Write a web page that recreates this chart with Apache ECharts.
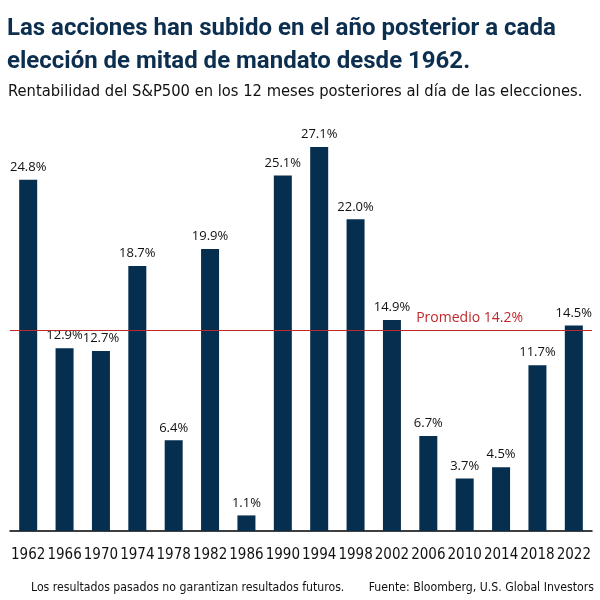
<!DOCTYPE html>
<html style="height: 100%">
<head>
    <meta charset="utf-8">
</head>
<body style="height: 100%; margin: 0; background: #fff">
<div id="container" style="width: 600px; height: 600px"></div>
<script type="text/javascript" src="https://cdn.jsdelivr.net/npm/echarts@6.0.0/dist/echarts.min.js"></script>
<script type="text/javascript">
  // años de elecciones de mitad de mandato
  const years = ['1962', '1966', '1970', '1974', '1978', '1982', '1986', '1990',
    '1994', '1998', '2002', '2006', '2010', '2014', '2018', '2022'];
  // rentabilidad S&P500 12 meses después (%)
  const returns = [24.8, 12.9, 12.7, 18.7, 6.4, 19.9, 1.1, 25.1,
    27.1, 22.0, 14.9, 6.7, 3.7, 4.5, 11.7, 14.5];
  const average = 14.2;

  const navy = '#062e4f';
  const narrow = '"DejaVu Sans Condensed", "Roboto", sans-serif';

  var dom = document.getElementById('container');
  var myChart = echarts.init(dom);
  var option = {
    animation: false,
    title: [
      {
        text: 'Las acciones han subido en el año posterior a cada\nelección de mitad de mandato desde 1962.',
        left: 7,
        top: 12,
        padding: 0,
        textStyle: {
          color: '#0d2f4f',
          fontFamily: 'Roboto, sans-serif',
          fontWeight: 'bold',
          fontSize: 24,
          lineHeight: 33
        }
      },
      {
        text: 'Rentabilidad del S&P500 en los 12 meses posteriores al día de las elecciones.',
        left: 8,
        top: 84,
        padding: 0,
        textStyle: {
          color: '#111',
          fontFamily: narrow,
          fontWeight: 'normal',
          fontSize: 16.4
        }
      },
      {
        text: 'Los resultados pasados no garantizan resultados futuros.',
        left: 31,
        top: 582,
        padding: 0,
        textStyle: { color: '#111', fontFamily: narrow, fontWeight: 'normal', fontSize: 12.2 }
      },
      {
        text: 'Fuente: Bloomberg, U.S. Global Investors',
        right: 6,
        top: 582,
        padding: 0,
        textStyle: { color: '#111', fontFamily: narrow, fontWeight: 'normal', fontSize: 12.2 }
      }
    ],
    grid: {
      left: 10,
      right: 8,
      top: 106,
      bottom: 69
    },
    xAxis: {
      type: 'category',
      data: years,
      axisLine: { lineStyle: { color: '#000', width: 1.5 } },
      axisTick: { show: false },
      axisLabel: {
        interval: 0,
        margin: 17,
        color: '#111',
        fontFamily: narrow,
        fontSize: 15
      }
    },
    yAxis: {
      type: 'value',
      min: 0,
      max: 30,
      show: false,
      splitLine: { show: false }
    },
    series: [
      {
        type: 'bar',
        data: returns,
        barWidth: 18,
        itemStyle: { color: navy },
        label: {
          show: true,
          position: 'top',
          distance: 6,
          color: '#111',
          fontFamily: 'Open Sans, sans-serif',
          fontSize: 13,
          formatter: function (p) { return p.value.toFixed(1) + '%'; }
        },
        markLine: {
          symbol: 'none',
          silent: true,
          lineStyle: { color: '#c0282d', width: 1.2, type: 'solid' },
          label: {
            position: 'insideEndTop',
            formatter: 'Promedio ' + average + '%',
            color: '#c0282d',
            fontFamily: 'Open Sans, sans-serif',
            fontSize: 14,
            padding: [0, 64, 0, 0]
          },
          data: [{ yAxis: average }]
        }
      }
    ]
  };
  myChart.setOption(option);
</script>
</body>
</html>
